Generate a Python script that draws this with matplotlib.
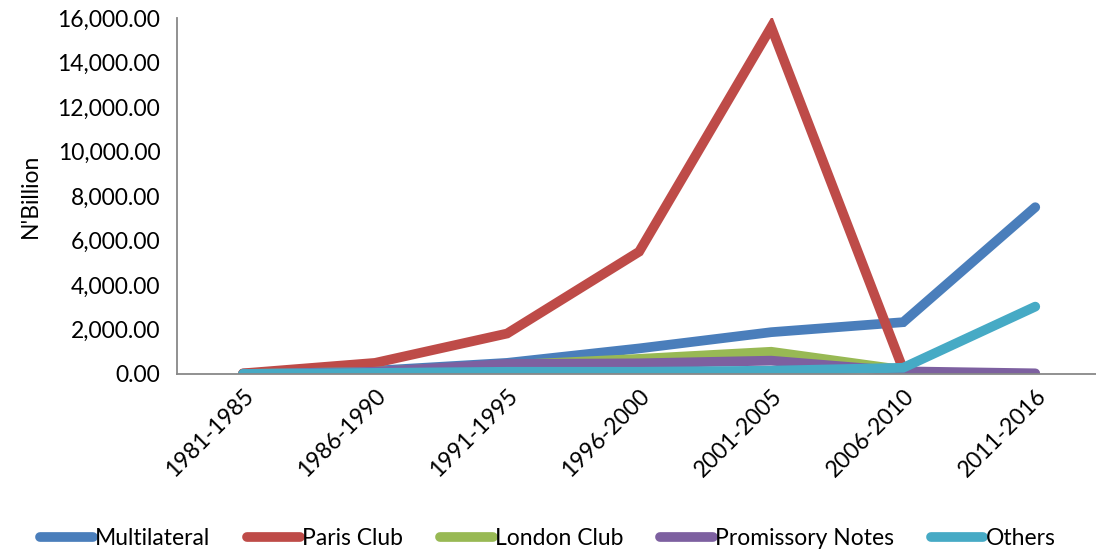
import numpy as np
import matplotlib
matplotlib.use("Agg")
import matplotlib.pyplot as plt
from matplotlib.ticker import FuncFormatter

plt.rcParams["font.family"] = ["Lato", "DejaVu Sans"]

periods = ["1981-1985", "1986-1990", "1991-1995", "1996-2000",
           "2001-2005", "2006-2010", "2011-2016"]
multilateral = [20, 150, 500, 1150, 1880, 2330, 7500]
paris_club = [30, 500, 1820, 5500, 15600, 200, np.nan]
london_club = [0, 100, 400, 680, 1000, 180, np.nan]
promissory = [0, 100, 450, 480, 600, 120, 30]
others = [0, 50, 100, 100, 150, 280, 3030]

series = [
    ("Multilateral", multilateral, "#4a7ebb"),
    ("Paris Club", paris_club, "#be4b48"),
    ("London Club", london_club, "#98b954"),
    ("Promissory Notes", promissory, "#7d60a0"),
    ("Others", others, "#46aac5"),
]

fig = plt.figure(figsize=(10.96, 5.5), dpi=100)
ax = fig.add_axes([0.1615, 0.32, 0.8385, 0.647])

x = np.arange(len(periods))
for name, vals, col in series:
    ax.plot(x, vals, color=col, lw=7, label=name,
            solid_capstyle="round", solid_joinstyle="miter")

ax.set_xlim(-0.5, 6.46)
ax.set_ylim(0, 16000)
ax.set_yticks(np.arange(0, 16001, 2000))
ax.yaxis.set_major_formatter(FuncFormatter(lambda v, p: f"{v:,.2f}"))
ax.set_xticks(x)
ax.set_xticklabels(periods, rotation=45, ha="right", rotation_mode="anchor")
ax.tick_params(axis="both", length=0, labelsize=16.5, pad=8)
ax.tick_params(axis="y", pad=12)

for s in ["top", "right"]:
    ax.spines[s].set_visible(False)
for s in ["left", "bottom"]:
    ax.spines[s].set_color("#888888")
    ax.spines[s].set_linewidth(1.3)

ax.set_ylabel("N'Billion", fontsize=16.5, labelpad=12)

fig.legend(loc="lower center", bbox_to_anchor=(0.5, -0.035), ncol=5,
           frameon=False, fontsize=16.5, handlelength=2.3, handletextpad=0.1,
           columnspacing=1.6)

fig.savefig("out.png", dpi=100)
